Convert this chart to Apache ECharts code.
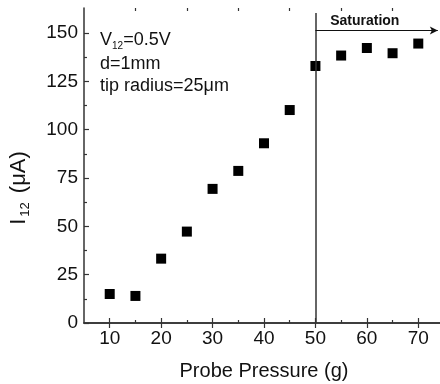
<!DOCTYPE html>
<html>
<head>
<meta charset="utf-8">
<script src="https://cdn.jsdelivr.net/npm/echarts@6/dist/echarts.min.js"></script>
<style>html,body{margin:0;padding:0;background:#fff}#c{width:440px;height:384px}</style>
</head>
<body>
<div id="c"></div>
<script>
var pressure = [10, 15, 20, 25, 30, 35, 40, 45, 50, 55, 60, 65, 70];
var current = [15.0, 14.0, 33.3, 47.3, 69.4, 78.7, 93.0, 110.2, 133.0, 138.4, 142.3, 139.6, 144.6];
var xMajor = [10, 20, 30, 40, 50, 60, 70];
var xMinor = [15, 25, 35, 45, 55, 65];
var yMajor = [0, 25, 50, 75, 100, 125, 150];
var yMinor = [12.5, 37.5, 62.5, 87.5, 112.5, 137.5];
var satX = 50, satTop = 160.4, arrowY = 151.3, arrowEnd = 73.8;

var FONT = 'Liberation Sans, Arial, sans-serif';
var C = '#333';
var chart = echarts.init(document.getElementById('c'));

function xAx(pos, vals, len, showLine, showLabel) {
  return {
    type: 'value', position: pos, min: 5, max: 75,
    axisLine: {show: showLine, lineStyle: {color: C, width: 1.5}},
    axisTick: {show: true, inside: true, length: len, customValues: vals, lineStyle: {color: C, width: 1.2}},
    axisLabel: {show: showLabel, customValues: vals, margin: 6, fontSize: 19, color: '#111', fontFamily: FONT},
    splitLine: {show: false}
  };
}
function yAx(pos, vals, len, showLine, showLabel) {
  return {
    type: 'value', position: pos, min: 0, max: 163,
    axisLine: {show: showLine, lineStyle: {color: C, width: 1.5}},
    axisTick: {show: true, inside: true, length: len, customValues: vals, lineStyle: {color: C, width: 1.2}},
    axisLabel: {show: showLabel, customValues: vals, margin: 6, fontSize: 19, color: '#111', fontFamily: FONT},
    splitLine: {show: false}
  };
}

var xa0 = xAx('bottom', xMajor, 5, true, true);
xa0.name = 'Probe Pressure (g)';
xa0.nameLocation = 'middle';
xa0.nameGap = 38;
xa0.nameTextStyle = {fontSize: 20, color: '#111', fontFamily: FONT};

chart.setOption({
  animation: false,
  grid: {left: 84, width: 360, top: 8, height: 315, containLabel: false, outerBoundsMode: 'none'},
  xAxis: [xa0, xAx('bottom', xMinor, 3, false, false), xAx('top', xMajor, 5, true, false), xAx('top', xMinor, 3, false, false)],
  yAxis: [yAx('left', yMajor, 5, true, true), yAx('left', yMinor, 3, false, false), yAx('right', yMajor, 4, true, false)],
  graphic: [
    {type: 'text', x: 19, y: 188, rotation: Math.PI / 2, style: {
      text: '{a|I}{b|12}{a| (μA)}', align: 'center', verticalAlign: 'middle',
      rich: {a: {fontSize: 22, fontFamily: FONT, fill: '#111', lineHeight: 26}, b: {fontSize: 13, fontFamily: FONT, fill: '#111', verticalAlign: 'bottom', lineHeight: 26, padding: [0, 3, 0, 2]}}
    }},
    {type: 'text', x: 100, y: 40, style: {
      text: '{a|V}{b|12}{a|=0.5V}', align: 'left', verticalAlign: 'middle',
      rich: {a: {fontSize: 18, fontFamily: FONT, fill: '#111', lineHeight: 22}, b: {fontSize: 10, fontFamily: FONT, fill: '#111', verticalAlign: 'bottom', lineHeight: 22}}
    }},
    {type: 'text', x: 100, y: 64, style: {text: 'd=1mm', fontSize: 18, fontFamily: FONT, fill: '#111', align: 'left', verticalAlign: 'middle'}},
    {type: 'text', x: 100, y: 86, style: {text: 'tip radius=25μm', fontSize: 18, fontFamily: FONT, fill: '#111', align: 'left', verticalAlign: 'middle'}}
  ],
  series: [{
    type: 'scatter', xAxisIndex: 0, yAxisIndex: 0,
    symbol: 'rect', symbolSize: 10,
    itemStyle: {color: '#000', opacity: 1},
    data: pressure.map(function (p, i) { return [p, current[i]]; }),
    markLine: {
      silent: true, symbol: ['none', 'none'], label: {show: false},
      data: [
        [{coord: [satX, 0], lineStyle: {color: C, width: 1.5, type: 'solid'}}, {coord: [satX, satTop]}],
        [{coord: [satX, arrowY], symbol: 'none', lineStyle: {color: '#111', width: 1.2, type: 'solid'}}, {coord: [arrowEnd, arrowY], symbol: 'arrow', symbolSize: [6, 8]}]
      ]
    },
    markPoint: {
      silent: true, symbol: 'rect', symbolSize: 0,
      label: {show: true, position: 'inside', formatter: 'Saturation', fontSize: 14, fontWeight: 'bold', color: '#111', fontFamily: FONT},
      data: [{coord: [59.6, 156]}]
    }
  }]
});
</script>
</body>
</html>
